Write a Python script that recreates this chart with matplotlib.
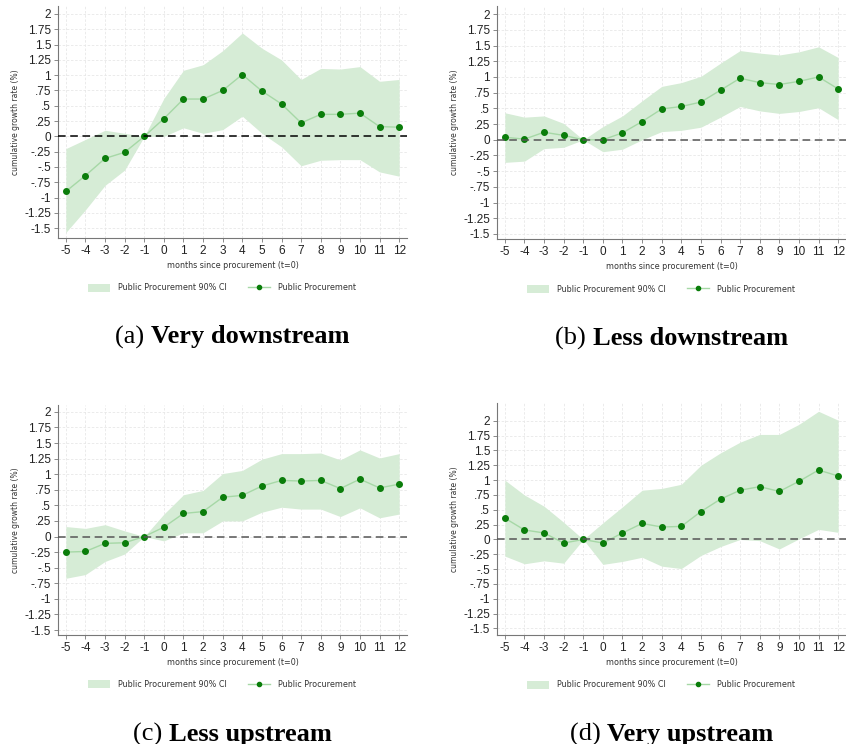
import numpy as np
import matplotlib
matplotlib.use("Agg")
import matplotlib.pyplot as plt
from matplotlib.patches import Patch
from matplotlib.lines import Line2D

months = list(range(-5, 13))

# panel (a) very downstream
a_est = [-0.90, -0.64, -0.36, -0.26, 0.0, 0.29, 0.61, 0.61, 0.75, 1.01, 0.74, 0.53, 0.22, 0.36, 0.36, 0.38, 0.16, 0.15]
a_hi = [-0.20, -0.05, 0.10, 0.05, 0.0, 0.62, 1.08, 1.17, 1.40, 1.69, 1.44, 1.25, 0.93, 1.11, 1.10, 1.14, 0.90, 0.93]
a_lo = [-1.57, -1.20, -0.80, -0.55, 0.0, 0.0, 0.14, 0.05, 0.11, 0.33, 0.05, -0.17, -0.48, -0.39, -0.38, -0.38, -0.58, -0.65]

# panel (b) less downstream
b_est = [0.04, 0.01, 0.12, 0.07, 0.0, 0.0, 0.11, 0.29, 0.49, 0.53, 0.60, 0.79, 0.98, 0.91, 0.88, 0.93, 1.00, 0.81]
b_hi = [0.43, 0.36, 0.38, 0.26, 0.0, 0.21, 0.38, 0.62, 0.85, 0.91, 1.01, 1.22, 1.42, 1.38, 1.35, 1.40, 1.48, 1.31]
b_lo = [-0.36, -0.34, -0.14, -0.12, 0.0, -0.19, -0.15, 0.0, 0.13, 0.15, 0.20, 0.36, 0.53, 0.46, 0.42, 0.45, 0.51, 0.32]

# panel (c) less upstream
c_est = [-0.25, -0.24, -0.11, -0.10, 0.0, 0.15, 0.37, 0.40, 0.63, 0.66, 0.81, 0.90, 0.89, 0.90, 0.77, 0.92, 0.78, 0.84]
c_hi = [0.16, 0.13, 0.19, 0.09, 0.0, 0.36, 0.67, 0.74, 1.01, 1.06, 1.24, 1.33, 1.33, 1.34, 1.23, 1.39, 1.26, 1.33]
c_lo = [-0.67, -0.61, -0.40, -0.28, 0.0, -0.07, 0.06, 0.06, 0.25, 0.25, 0.39, 0.47, 0.44, 0.44, 0.32, 0.46, 0.30, 0.36]

# panel (d) very upstream
d_est = [0.36, 0.16, 0.11, -0.06, 0.0, -0.06, 0.11, 0.27, 0.21, 0.22, 0.47, 0.68, 0.83, 0.89, 0.81, 0.98, 1.17, 1.07]
d_hi = [1.00, 0.75, 0.56, 0.29, 0.0, 0.28, 0.55, 0.83, 0.86, 0.93, 1.25, 1.46, 1.64, 1.77, 1.77, 1.94, 2.16, 2.01]
d_lo = [-0.28, -0.41, -0.36, -0.40, 0.0, -0.42, -0.37, -0.30, -0.45, -0.49, -0.27, -0.12, 0.0, -0.02, -0.16, 0.01, 0.17, 0.12]

yticks = [2, 1.75, 1.5, 1.25, 1, 0.75, 0.5, 0.25, 0, -0.25, -0.5, -0.75, -1, -1.25, -1.5]
ytick_labels = ["2", "1.75", "1.5", "1.25", "1", ".75", ".5", ".25", "0", "-.25", "-.5", "-.75", "-1", "-1.25", "-1.5"]

captions = [("(a) ", "Very downstream"), ("(b) ", "Less downstream"),
            ("(c) ", "Less upstream"), ("(d) ", "Very upstream")]

W, H = 846, 744
# pixel boxes: left, top, right, bottom, ylim, zero-line colour
boxes = [
    (58, 6, 407, 238, (-1.66, 2.13), "black"),
    (497, 6, 846, 239, (-1.58, 2.13), "#555555"),
    (58, 405, 407, 635, (-1.58, 2.11), "#555555"),
    (497, 403, 846, 635, (-1.61, 2.30), "#555555"),
]
panels = [(a_est, a_lo, a_hi), (b_est, b_lo, b_hi), (c_est, c_lo, c_hi), (d_est, d_lo, d_hi)]

band_col = "#d6ecd6"
line_col = "#a6d8a6"
dot_col = "#0a7d0a"

fig = plt.figure(figsize=(W / 100, H / 100), dpi=100)
renderer = fig.canvas.get_renderer()

for i, (est, lo, hi) in enumerate(panels):
    l, t, r, b, ylim, zcol = boxes[i]
    ax = fig.add_axes([l / W, 1 - b / H, (r - l) / W, (b - t) / H])
    ax.fill_between(months, lo, hi, color=band_col, lw=0, zorder=2)
    ax.plot(months, est, color=line_col, lw=1.0, zorder=3)
    ax.plot(months, est, "o", color=dot_col, ms=4, zorder=4)
    ax.axhline(0, color=zcol, ls=(0, (5, 3)), lw=1.1, zorder=5)
    ax.set_xlim(-5.4, 12.4)
    ax.set_ylim(*ylim)
    ax.set_xticks(months)
    ax.set_xticklabels([str(m) for m in months])
    ax.set_yticks(yticks)
    ax.set_yticklabels(ytick_labels)
    ax.grid(True, color="#e8e8e8", ls=(0, (3, 2)), lw=0.6, zorder=0)
    ax.set_axisbelow(True)
    for s in ["top", "right"]:
        ax.spines[s].set_visible(False)
    for s in ["left", "bottom"]:
        ax.spines[s].set_color("#777777")
        ax.spines[s].set_linewidth(0.8)
    ax.tick_params(labelsize=8.5, colors="#222222", length=3, width=0.6, pad=2)
    ax.tick_params(axis="both", color="#777777")
    ax.set_ylabel("cumulative growth rate (%)", fontsize=5.5, color="#333333", labelpad=3)
    ax.set_xlabel("months since procurement (t=0)", fontsize=5.8, color="#333333", labelpad=3)

    handles = [Patch(facecolor=band_col, edgecolor="none"),
               Line2D([0], [0], color=line_col, lw=1.0, marker="o", ms=3,
                      markerfacecolor=dot_col, markeredgecolor=dot_col)]
    ax.legend(handles, ["Public Procurement 90% CI", "Public Procurement"],
              loc="center", bbox_to_anchor=(0.47, -0.215), ncol=2, frameon=False,
              fontsize=5.8, handlelength=2.8, handleheight=1.2, columnspacing=2.6,
              handletextpad=1.0, labelcolor="#333333")

    # caption below panel: normal "(x) " + bold title
    cx = (l + r) / 2 / W
    cy = 1 - (b + 99) / H
    p1, p2 = captions[i]
    t1 = fig.text(0, cy, p1, fontsize=19, family="Liberation Serif", va="center")
    t2 = fig.text(0, cy, p2, fontsize=19, family="Liberation Serif", weight="bold", va="center")
    w1 = t1.get_window_extent(renderer).width / W
    w2 = t2.get_window_extent(renderer).width / W
    x0 = cx - (w1 + w2) / 2
    t1.set_x(x0)
    t2.set_x(x0 + w1)

for ax in fig.axes:
    for lab in ax.get_xticklabels() + ax.get_yticklabels():
        lab.set_family("Liberation Sans")

fig.savefig("out.png", dpi=100)
